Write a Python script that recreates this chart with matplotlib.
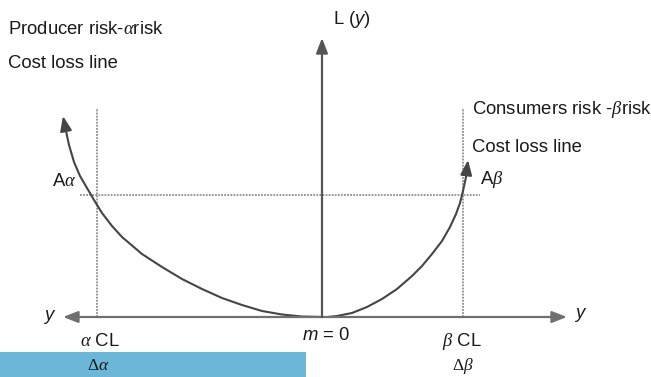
import matplotlib
matplotlib.use("Agg")
import matplotlib.pyplot as plt

# loss curves: deviation from target vs loss L(y)
left_dev = [0, -20, -40, -60, -80, -100, -120, -140, -160, -180, -200, -210,
            -220, -228, -235, -242, -248, -253, -256, -259]
left_loss = [0, 0.5, 2.5, 6, 12, 19, 28, 38, 50, 63, 80, 91,
             104, 117, 129, 141, 155, 172, 186, 201]
right_dev = [6, 15, 30, 45, 60, 75, 90, 100, 110, 120, 128, 134, 138, 141, 144, 146]
right_loss = [0, 1, 4, 10, 18, 28, 41, 51, 63, 76, 90, 103, 114, 126, 140, 157]

# control limits and cost-loss level
alpha_cl = -225
beta_cl = 141
cost_level = 122
limit_top = 209
y_axis_range = (-259, 245)
loss_axis_top = 279

plt.rcParams['font.family'] = ['Liberation Sans', 'DejaVu Sans']
plt.rcParams['mathtext.fontset'] = 'custom'
plt.rcParams['mathtext.rm'] = 'Liberation Serif'
plt.rcParams['mathtext.it'] = 'Liberation Serif:italic'
plt.rcParams['mathtext.sf'] = 'Liberation Sans:italic'

fig = plt.figure(figsize=(6.51, 3.77), dpi=100)
ax = fig.add_axes([0, 0, 1, 1])
ax.set_xlim(-322, 329)
ax.set_ylim(-60, 317)
ax.axis('off')

fs = 13.3
curve_col = '#454545'
dot_col = '#8f8f8f'
head = '-|>,head_length=0.9,head_width=0.35'

# dotted control-limit lines
ax.plot([alpha_cl, alpha_cl], [0, limit_top], color=dot_col, lw=1.3, ls=(0, (1, 0.7)))
ax.plot([beta_cl, beta_cl], [0, limit_top], color=dot_col, lw=1.3, ls=(0, (1, 0.7)))
ax.plot([-242, 158], [cost_level, cost_level], color=dot_col, lw=1.3, ls=(0, (1, 0.7)))

# axes with arrows
for end, col in [((y_axis_range[0], 0), '#707070'),
                 ((y_axis_range[1], 0), '#707070'),
                 ((0, loss_axis_top), '#555555')]:
    ax.annotate('', xy=end, xytext=(0, 0),
                arrowprops=dict(arrowstyle=head, color=col, lw=1.6,
                                mutation_scale=10, shrinkA=0, shrinkB=0))

# loss curves
for dev, loss in [(left_dev, left_loss), (right_dev, right_loss)]:
    ax.plot(dev[:-1], loss[:-1], color=curve_col, lw=1.5, solid_capstyle='round',
            solid_joinstyle='round')
    ax.annotate('', xy=(dev[-1], loss[-1]), xytext=(dev[-2], loss[-2]),
                arrowprops=dict(arrowstyle=head, color=curve_col, lw=1.5,
                                mutation_scale=10, shrinkA=0, shrinkB=0))

# blue band under the alpha side
ax.barh(-47.5, 306, left=-322, height=25, color='#6cb7d8')

tc = '#1a1a1a'
ax.text(-314, 287, r'Producer risk-$\alpha$risk', fontsize=fs, color=tc, va='center')
ax.text(-314, 254, 'Cost loss line', fontsize=fs, color=tc, va='center')
ax.text(150, 207, r'Consumers risk -$\beta$risk', fontsize=fs, color=tc, va='center')
ax.text(150, 170, 'Cost loss line', fontsize=fs, color=tc, va='center')
ax.text(11, 297, r'L ($\mathsf{y}$)', fontsize=fs, color=tc, va='center')
ax.text(-270, 135, r'A$\alpha$', fontsize=fs, color=tc, va='center')
ax.text(158, 137, r'A$\beta$', fontsize=fs, color=tc, va='center')
ax.text(-273, 1, 'y', fontsize=fs, color=tc, style='italic', ha='center', va='center')
ax.text(258, 4, 'y', fontsize=fs, color=tc, style='italic', ha='center', va='center')
ax.text(-242, -25, r'$\alpha$ CL', fontsize=fs, color=tc, va='center')
ax.text(-20, -18, r'$\mathsf{m}$ = 0', fontsize=fs, color=tc, va='center')
ax.text(120, -25, r'$\beta$ CL', fontsize=fs, color=tc, va='center')
ax.text(-235, -48, r'$\Delta\alpha$', fontsize=12.5, color=tc, va='center')
ax.text(130, -49, r'$\Delta\beta$', fontsize=12.5, color=tc, va='center')

fig.savefig('out.png', dpi=100)
plt.close(fig)
